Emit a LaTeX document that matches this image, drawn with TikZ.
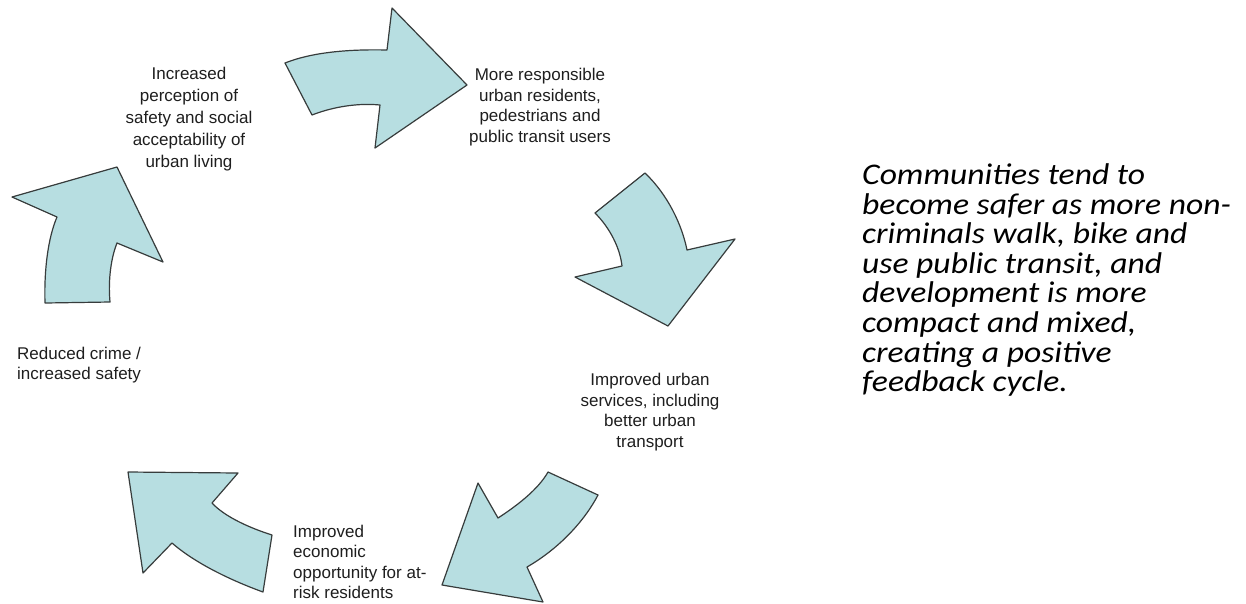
\documentclass[tikz,border=0pt]{standalone}
\usepackage{fontspec}
\setmainfont{Liberation Sans}
\newfontfamily\notefont[FakeStretch=1.12]{Carlito}
\usetikzlibrary{positioning}
\definecolor{cyclecyan}{RGB}{183,222,225}
\definecolor{edgegray}{RGB}{55,60,60}
\definecolor{textgray}{RGB}{30,30,30}

\begin{document}
\begin{tikzpicture}[x=1pt, y=-1pt,
    cyclearrow/.style={draw=edgegray, fill=cyclecyan, line width=1.2pt, line join=round},
    steptext/.style={inner sep=0pt, font=\fontsize{17}{20.5}\selectfont, text=textgray}]

\useasboundingbox (0,0) rectangle (1246,603);

% Cycle arrows (clockwise)
\draw[cyclearrow] (285,63) -- (312,115) .. controls (335,106) and (360,103) .. (380,105)
    -- (375,148) -- (467,85) -- (392,8) -- (387,50) .. controls (345,49) and (310,53) .. (285,63) -- cycle;
\draw[cyclearrow] (645,173) -- (595,213) .. controls (610,228) and (620,248) .. (622,266)
    -- (575,277) -- (668,326) -- (735,239) -- (687,250) .. controls (682,225) and (668,195) .. (645,173) -- cycle;
\draw[cyclearrow] (548,472) -- (598,495) .. controls (585,520) and (560,548) .. (527,567)
    -- (543,602) -- (442,585) -- (478,483) -- (498,518) .. controls (515,507) and (538,490) .. (548,472) -- cycle;
\draw[cyclearrow] (128,472) -- (238,473) -- (212,503) .. controls (225,517) and (250,528) .. (272,535)
    -- (263,592) .. controls (230,580) and (195,563) .. (172,543) -- (143,573) -- cycle;
\draw[cyclearrow] (45,303) -- (110,302) .. controls (108,280) and (111,258) .. (117,243)
    -- (163,262) -- (117,167) -- (12,197) -- (57,217) .. controls (48,238) and (44,270) .. (45,303) -- cycle;

% Cycle steps
\node[steptext, align=center, font=\fontsize{17}{21.8}\selectfont] (safety) at (189,119) {Increased\\perception of\\safety and social\\acceptability of\\urban living};
\node[steptext, align=center] (residents) at (540,107) {More responsible\\urban residents,\\pedestrians and\\public transit users};
\node[steptext, align=center] (services) at (650,412) {Improved urban\\services, including\\better urban\\transport};
\node[steptext, align=left, anchor=west] (economy) at (293,562) {Improved\\economic\\opportunity for at-\\risk residents};
\node[steptext, align=left, anchor=west] (crime) at (17,365) {Reduced crime /\\increased safety};

% Side note
\node[anchor=west, inner sep=0pt, align=left, text=black, font=\notefont\itshape\fontsize{30}{29.6}\selectfont] (note) at (862,280) {
    Communities tend to\\
    become safer as more non-\\
    criminals walk, bike and\\
    use public transit, and\\
    development is more\\
    compact and mixed,\\
    creating a positive\\
    feedback cycle.};

\end{tikzpicture}
\end{document}
